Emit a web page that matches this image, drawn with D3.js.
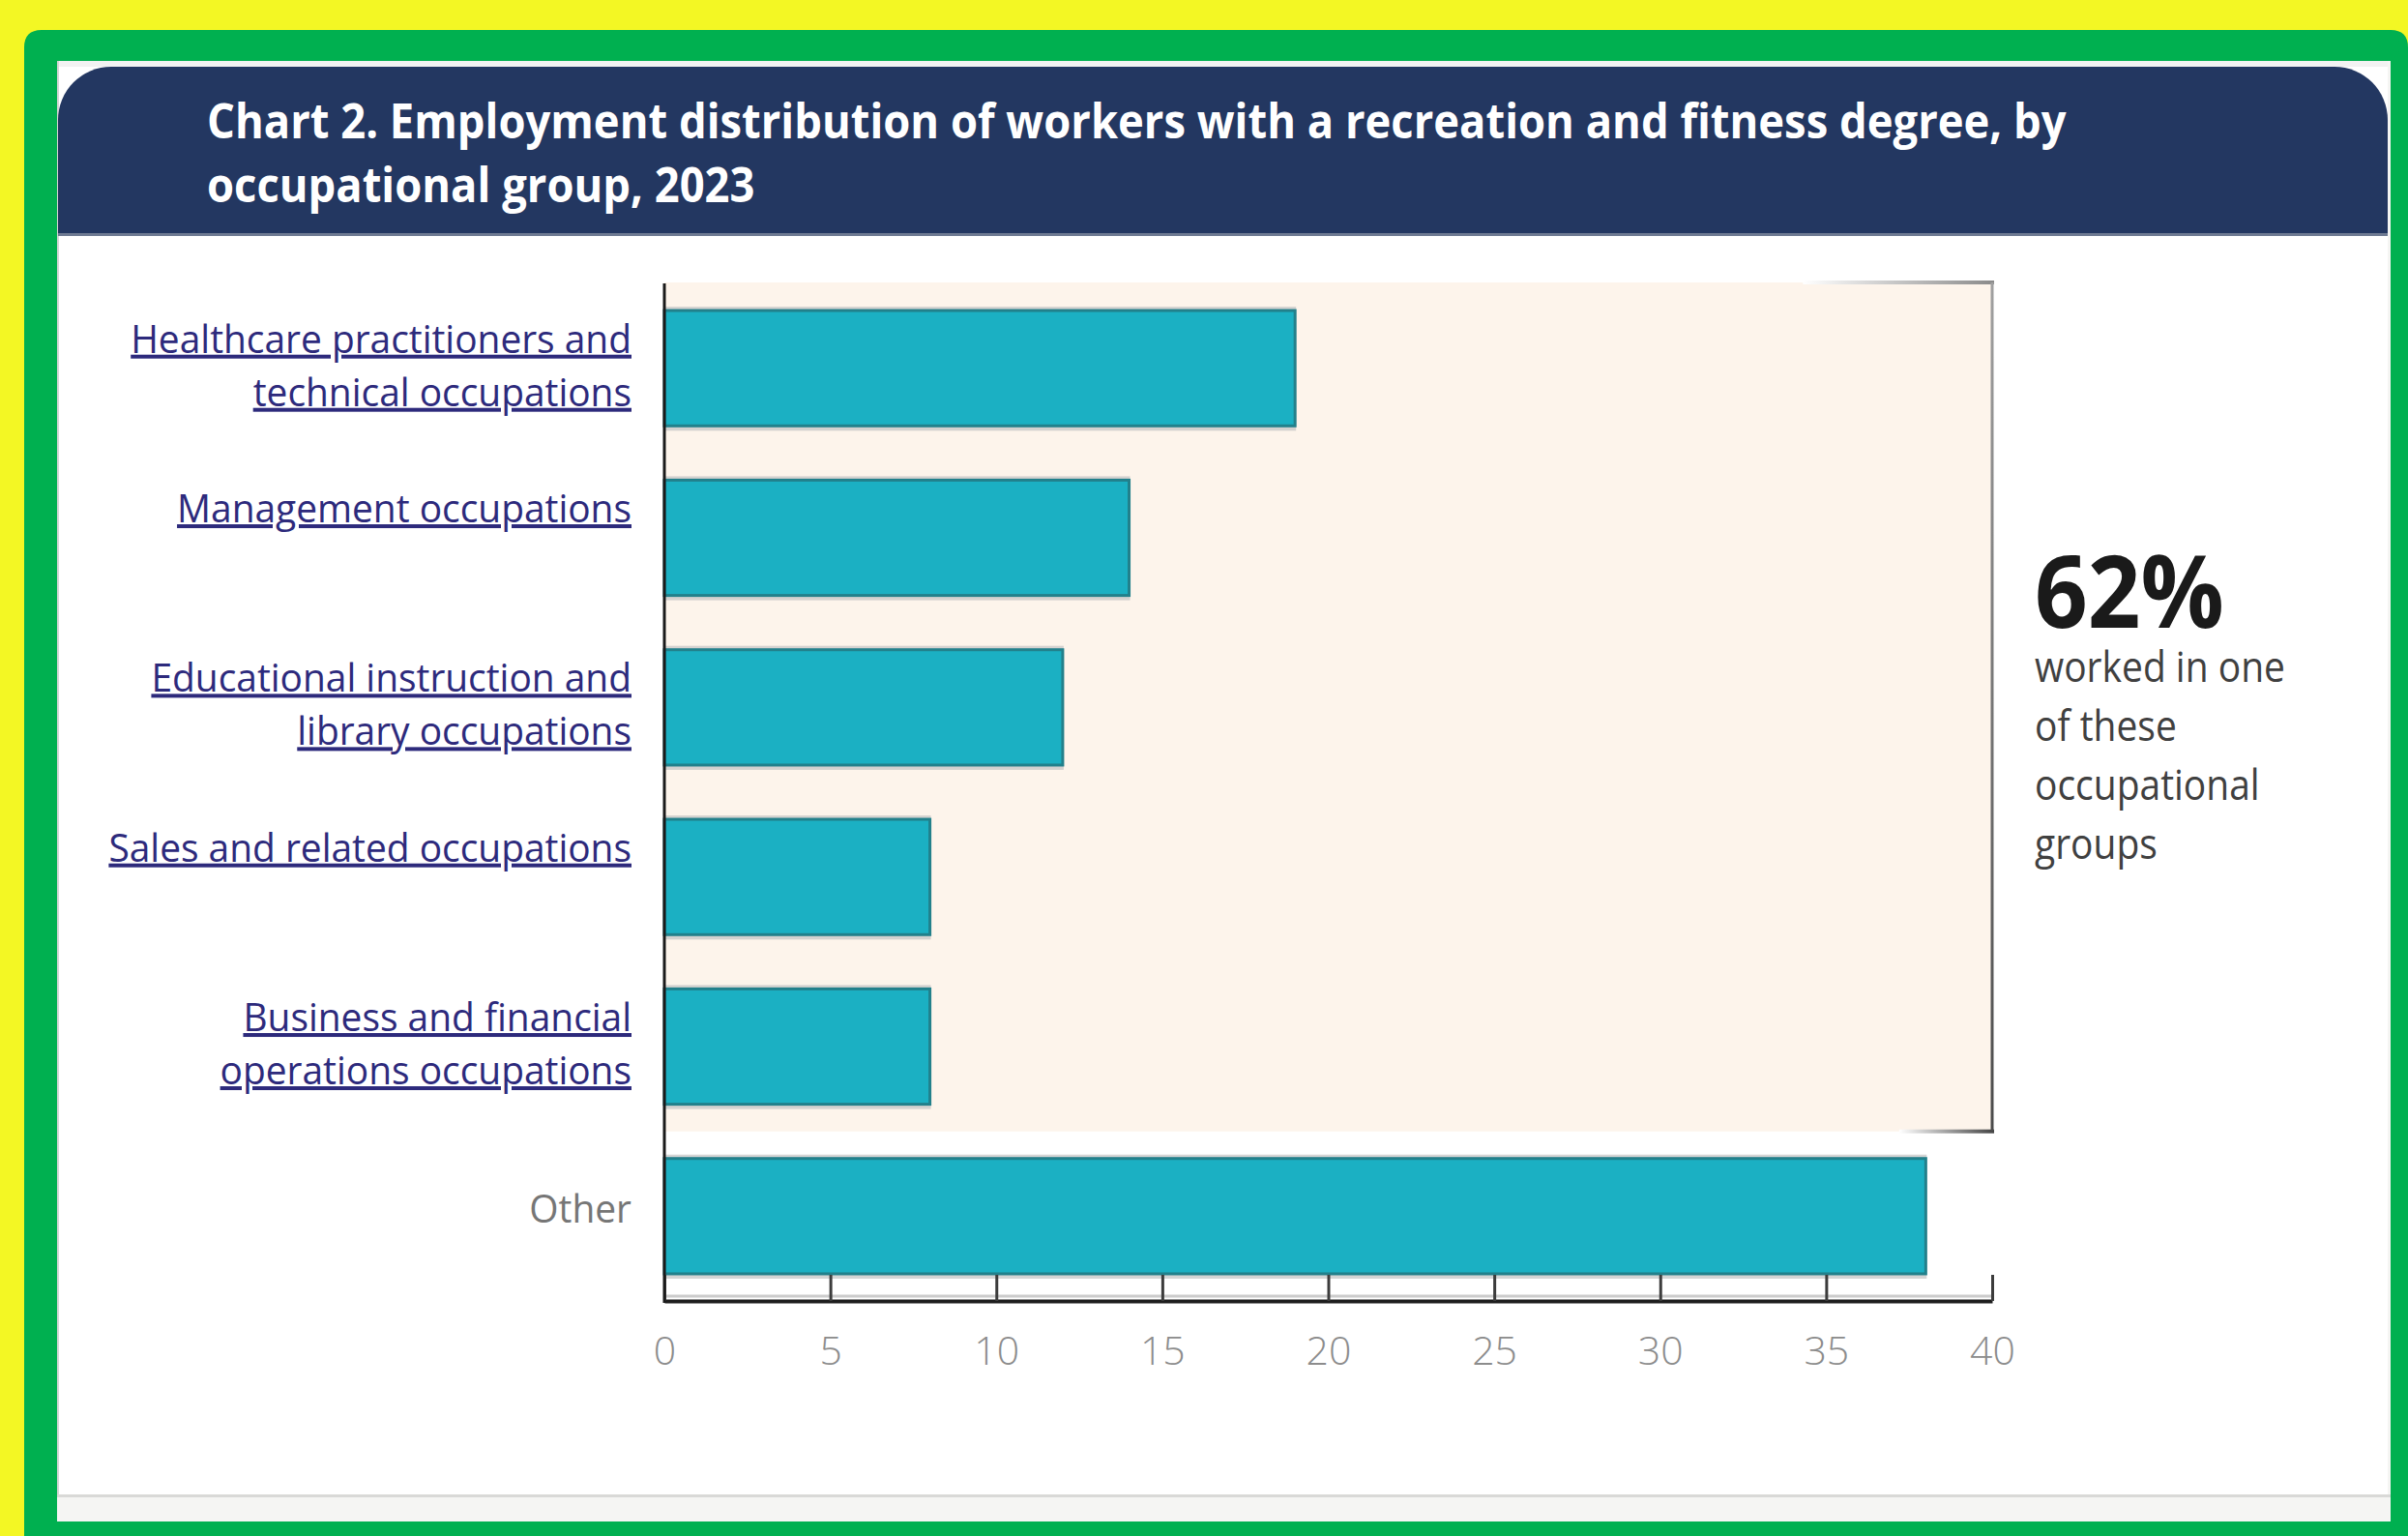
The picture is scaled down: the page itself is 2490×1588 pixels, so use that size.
<!DOCTYPE html>
<html><head><meta charset="utf-8">
<script src="https://cdn.jsdelivr.net/npm/d3@7"></script>
<style>html,body{margin:0;padding:0;background:#f3f724;} svg{display:block}</style>
</head><body>
<svg id="c" width="2490" height="1588"></svg>
<script>
// ---------- data ----------
const titleLines = ["Chart 2. Employment distribution of workers with a recreation and fitness degree, by", "occupational group, 2023"];
const categories = ["Healthcare practitioners and technical occupations", "Management occupations", "Educational instruction and library occupations", "Sales and related occupations", "Business and financial operations occupations", "Other"];
const labelLines = [["Healthcare practitioners and", "technical occupations"], ["Management occupations"], ["Educational instruction and", "library occupations"], ["Sales and related occupations"], ["Business and financial", "operations occupations"], ["Other"]];
const linked = [true, true, true, true, true, false];
const values = [19, 14, 12, 8, 8, 38];
const xTicks = [0, 5, 10, 15, 20, 25, 30, 35, 40];
const highlightValue = "62%";
const highlightNote = ["worked in one", "of these", "occupational", "groups"];
const highlightedCount = 5;

// ---------- setup ----------
const svg = d3.select("#c");
const FONT = "'Open Sans', 'Noto Sans', sans-serif";

function measure(txt, size, weight) {
  const t = svg.append("text").attr("font-family", FONT).attr("font-size", size)
    .attr("font-weight", weight).text(txt);
  const w = t.node().getComputedTextLength();
  t.remove();
  return w;
}

// background frame
svg.append("rect").attr("width", 2490).attr("height", 1588).attr("fill", "#f3f724");
svg.append("path").attr("d", "M25,31 L2472,31 Q2490,31 2490,49 L2490,1588 L25,1588 L25,49 Q25,31 43,31 Z")
  .attr("fill", "#00b050");
svg.append("rect").attr("x", 59).attr("y", 63).attr("width", 2413).attr("height", 1510).attr("fill", "#f5f5f3");
svg.append("rect").attr("x", 59).attr("y", 63).attr("width", 2410).attr("height", 1482).attr("fill", "#ffffff");
svg.append("rect").attr("x", 59).attr("y", 63).attr("width", 2410).attr("height", 6).attr("fill", "#f2f2f2");
svg.append("rect").attr("x", 59).attr("y", 1545).attr("width", 2413).attr("height", 3).attr("fill", "#d9d9d7");
svg.append("rect").attr("x", 59).attr("y", 63).attr("width", 2).attr("height", 1482).attr("fill", "#d6d6d6");

// header
svg.append("path").attr("d", "M60,241 L60,124 A55,55 0 0 1 115,69 L2414,69 A55,55 0 0 1 2469,124 L2469,241 Z")
  .attr("fill", "#233761");
svg.append("rect").attr("x", 60).attr("y", 241).attr("width", 2409).attr("height", 3).attr("fill", "#6e7a92");

const titleK = 1923 / measure(titleLines[0], 50, 700);
[143, 209].forEach((b, i) => {
  svg.append("text").attr("transform", `translate(214,${b}) scale(${titleK},1)`)
    .attr("font-family", FONT).attr("font-size", 50).attr("font-weight", 700)
    .attr("fill", "#ffffff").text(titleLines[i]);
});

// ---------- scales ----------
const x = d3.scaleLinear().domain([0, 40]).range([687, 2060]);
const y = d3.scaleBand().domain(categories).range([293, 1345]).paddingInner(0.32).paddingOuter(0.16);

// highlighted box
const boxTop = y.range()[0] - 1;
const boxBottom = y(categories[highlightedCount - 1]) + y.bandwidth() + y.step() * y.paddingInner() / 2;
const defs = svg.append("defs");
const gH = defs.append("linearGradient").attr("id", "gh").attr("x1", 0).attr("x2", 1).attr("y1", 0).attr("y2", 0);
gH.append("stop").attr("offset", 0).attr("stop-color", "#ffffff");
gH.append("stop").attr("offset", 1).attr("stop-color", "#8a8a8a");
const gH2 = defs.append("linearGradient").attr("id", "gh2").attr("x1", 0).attr("x2", 1).attr("y1", 0).attr("y2", 0);
gH2.append("stop").attr("offset", 0).attr("stop-color", "#ffffff");
gH2.append("stop").attr("offset", 1).attr("stop-color", "#444444");
const gV = defs.append("linearGradient").attr("id", "gv").attr("x1", 0).attr("x2", 0).attr("y1", 0).attr("y2", 1);
gV.append("stop").attr("offset", 0).attr("stop-color", "#a0a0a0");
gV.append("stop").attr("offset", 1).attr("stop-color", "#4a4a4a");

svg.append("rect").attr("x", x(0)).attr("y", boxTop).attr("width", x(40) - x(0)).attr("height", boxBottom - boxTop)
  .attr("fill", "#fdf4eb");
svg.append("rect").attr("x", x(34.3)).attr("y", boxTop - 2).attr("width", x(40) - x(34.3) + 2).attr("height", 4).attr("fill", "url(#gh)");
svg.append("rect").attr("x", x(37.2)).attr("y", boxBottom - 2).attr("width", x(40) - x(37.2) + 2).attr("height", 4).attr("fill", "url(#gh2)");
svg.append("rect").attr("x", x(40) - 1.5).attr("y", boxTop).attr("width", 3).attr("height", boxBottom - boxTop).attr("fill", "url(#gv)");

// bars
const bars = svg.append("g");
bars.selectAll("rect.sh").data(values).join("rect").attr("class", "sh")
  .attr("x", x(0)).attr("y", (d, i) => y(categories[i]) - 4)
  .attr("width", d => x(d) - x(0) + 1).attr("height", y.bandwidth() + 9)
  .attr("fill", "#c9c9c9").attr("opacity", 0.8);
bars.selectAll("rect.bar").data(values).join("rect").attr("class", "bar")
  .attr("x", x(0)).attr("y", (d, i) => y(categories[i]))
  .attr("width", d => x(d) - x(0)).attr("height", y.bandwidth())
  .attr("fill", "#1bb0c3").attr("stroke", "#22808b").attr("stroke-width", 3);

// axes
svg.append("line").attr("x1", x(0)).attr("x2", x(40)).attr("y1", 1340).attr("y2", 1340)
  .attr("stroke", "#cccccc").attr("stroke-width", 3);
const xAxis = svg.append("g").attr("transform", "translate(0,1345)")
  .call(d3.axisBottom(x).tickValues(xTicks).tickSize(-27).tickSizeOuter(0).tickPadding(37));
xAxis.select(".domain").attr("stroke", "#1e1e1e").attr("stroke-width", 4);
xAxis.selectAll(".tick line").attr("stroke", "#3c3c3c").attr("stroke-width", 3);
xAxis.selectAll(".tick text").attr("font-family", FONT).attr("font-size", 41).attr("font-weight", 300)
  .attr("fill", "#8c8c8c");
svg.append("line").attr("x1", x(0)).attr("x2", x(0)).attr("y1", y.range()[0]).attr("y2", 1347)
  .attr("stroke", "#1a1a1a").attr("stroke-width", 3);

// category labels
const labK = 518 / measure(labelLines[0][0], 40, 400);
labelLines.forEach((lines, i) => {
  const c = y(categories[i]) + y.bandwidth() / 2;
  lines.forEach((ln, j) => {
    const base = linked[i] ? c - 16 + j * 55 : c + 7;
    svg.append("text").attr("transform", `translate(653,${base}) scale(${labK},1)`)
      .attr("text-anchor", "end").attr("font-family", FONT).attr("font-size", 40)
      .attr("fill", linked[i] ? "#2d2a7c" : "#767676")
      .style("text-decoration", linked[i] ? "underline" : "none")
      .text(ln);
  });
});

// highlight annotation
const hvK = 196 / measure(highlightValue, 105, 700);
svg.append("text").attr("transform", `translate(2104,649) scale(${hvK},1)`)
  .attr("font-family", FONT).attr("font-size", 105).attr("font-weight", 700).attr("fill", "#1a1a1a")
  .text(highlightValue);
const noteK = 259 / measure(highlightNote[0], 44, 400);
highlightNote.forEach((ln, i) => {
  svg.append("text").attr("transform", `translate(2104,${705 + i * 61}) scale(${noteK},1)`)
    .attr("font-family", FONT).attr("font-size", 44).attr("fill", "#404040").text(ln);
});
</script>
</body></html>
